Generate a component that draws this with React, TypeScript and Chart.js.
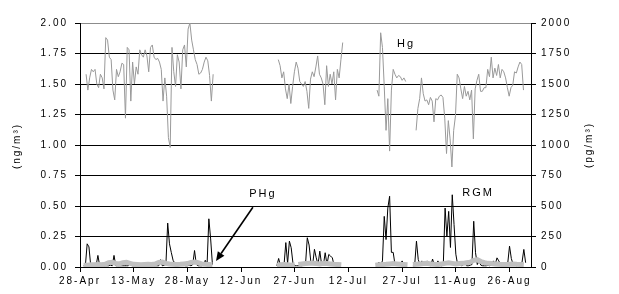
import React, { useEffect, useRef } from 'react';
import { Chart, registerables } from 'chart.js';

Chart.register(...registerables);

// ---- axis / tick data ----
const tickLabels = ['28-Apr', '13-May', '28-May', '12-Jun', '27-Jun', '12-Jul', '27-Jul', '11-Aug', '26-Aug'];
const tickDays = [0, 15, 30, 45, 60, 75, 90, 105, 120];
const dayMax = 126;

// ---- Hg (ng/m3), half-day steps, segments with start day ----
const hgStarts = [1.7, 55.4, 83.0, 93.9];
const hgSeg1 = [1.58, 1.45, 1.55, 1.62, 1.60, 1.62, 1.50, 1.47, 1.58, 1.55, 1.46, 1.88, 1.86, 1.72, 1.70, 1.45, 1.37, 1.62, 1.56, 1.60, 1.67, 1.66, 1.22, 1.80, 1.78, 1.36, 1.68, 1.50, 1.64, 1.58, 1.78, 1.74, 1.72, 1.78, 1.73, 1.60, 1.80, 1.82, 1.72, 1.70, 1.71, 1.68, 1.62, 1.36, 1.55, 1.40, 1.06, 0.98, 1.80, 1.60, 1.48, 1.74, 1.68, 1.46, 1.78, 1.82, 1.64, 1.95, 2.0, 1.86, 1.78, 1.70, 1.66, 1.58, 1.59, 1.62, 1.68, 1.72, 1.69, 1.57, 1.36, 1.58];
const hgSeg2 = [1.70, 1.65, 1.55, 1.60, 1.46, 1.38, 1.50, 1.34, 1.48, 1.60, 1.68, 1.63, 1.52, 1.50, 1.48, 1.52, 1.44, 1.30, 1.54, 1.60, 1.56, 1.64, 1.73, 1.58, 1.55, 1.50, 1.33, 1.65, 1.48, 1.58, 1.50, 1.60, 1.37, 1.62, 1.55, 1.70, 1.84];
const hgSeg3 = [1.45, 1.40, 1.92, 1.80, 1.48, 1.12, 1.38, 0.95, 1.45, 1.62, 1.58, 1.55, 1.57, 1.56, 1.53, 1.55, 1.52];
const hgSeg4 = [1.12, 1.30, 1.38, 1.55, 1.42, 1.36, 1.37, 1.33, 1.39, 1.36, 1.19, 1.38, 1.37, 1.40, 1.41, 1.39, 1.22, 0.93, 1.20, 1.05, 0.82, 1.12, 1.24, 1.58, 1.55, 1.46, 1.38, 1.48, 1.40, 1.44, 1.37, 1.45, 1.05, 1.46, 1.53, 1.58, 1.44, 1.44, 1.47, 1.47, 1.62, 1.56, 1.72, 1.55, 1.63, 1.57, 1.66, 1.55, 1.62, 1.60, 1.55, 1.47, 1.40, 1.47, 1.49, 1.60, 1.59, 1.64, 1.68, 1.66, 1.45];
const hgStep = 0.5;

// ---- RGM (pg/m3), half-day steps ----
const rgmStarts = [1.0, 55.0, 83.0, 93.0];
const rgmSeg1 = [10, 10, 190, 165, 10, 10, 15, 10, 95, 10, 10, 5, 10, 10, 10, 15, 10, 95, 10, 10, 10, 10, 10, 10, 10, 10, 40, 10, 10, 10, 10, 10, 10, 10, 10, 10, 10, 10, 10, 10, 10, 10, 10, 60, 10, 15, 20, 360, 190, 120, 55, 30, 15, 20, 40, 15, 15, 10, 10, 15, 10, 20, 135, 20, 10, 10, 10, 15, 55, 20, 395, 230, 20];
const rgmSeg2 = [10, 70, 10, 10, 15, 200, 30, 212, 158, 30, 10, 10, 10, 10, 10, 15, 20, 240, 180, 40, 20, 145, 75, 20, 130, 20, 15, 117, 20, 103, 90, 75, 10];
const rgmSeg3 = [15, 40, 20, 50, 415, 225, 483, 580, 120, 120, 20, 15, 15, 20, 50, 10];
const rgmSeg4 = [10, 15, 212, 60, 20, 50, 15, 20, 50, 15, 10, 65, 15, 10, 50, 15, 10, 20, 483, 250, 456, 160, 592, 348, 105, 20, 35, 10, 15, 35, 10, 10, 15, 20, 375, 117, 20, 50, 15, 10, 10, 10, 15, 10, 20, 50, 20, 75, 50, 15, 10, 15, 20, 30, 171, 70, 20, 15, 10, 15, 20, 40, 144, 35];
const rgmStep = 0.5;

// ---- PHg (pg/m3), daily steps ----
const phgStarts = [1, 55, 61, 82.5, 93];
const phgSeg1 = [15, 15, 18, 18, 20, 18, 22, 35, 38, 30, 25, 35, 38, 30, 22, 20, 18, 20, 22, 20, 25, 38, 40, 30, 25, 22, 20, 22, 25, 28, 38, 40, 35, 25, 22, 20, 18];
const phgSeg2 = [15, 18, 20, 18, 15, 18];
const phgSeg3 = [20, 25, 28, 30, 30, 28, 25, 30, 28, 25, 22, 20, 18];
const phgSeg4 = [15, 18, 20, 22, 25, 28, 25, 22, 20, 18];
const phgSeg5 = [20, 22, 25, 28, 30, 25, 22, 20, 25, 30, 35, 30, 25, 28, 30, 35, 40, 55, 60, 45, 35, 30, 28, 25, 22, 20, 20, 22, 25, 22, 20, 18];
const phgStep = 1;

// ---- annotations (day, value on left axis) ----
const hgLabel = { text: 'Hg', day: 91.1, value: 1.83 };
const rgmLabel = { text: 'RGM', day: 111.2, value: 0.607 };
const phgLabel = { text: 'PHg', day: 51.1, value: 0.598 };
const arrowFrom = { day: 48.3, value: 0.49 };
const arrowTo = { day: 38.0, value: 0.05 };

function buildSeries(starts: number[], segs: number[][], step: number) {
  const pts: { x: number; y: number | null }[] = [];
  segs.forEach((vals, i) => {
    if (i > 0) pts.push({ x: starts[i] - step / 2, y: null });
    vals.forEach((v, j) => pts.push({ x: starts[i] + j * step, y: v }));
  });
  return pts;
}

const FONT = '"Liberation Sans", Arial, sans-serif';
const LS = '2px';

const spacingPlugin = {
  id: 'letterSpacing',
  beforeUpdate(c: any) { c.ctx.letterSpacing = LS; },
  beforeLayout(c: any) { c.ctx.letterSpacing = LS; },
  beforeDraw(c: any) { c.ctx.letterSpacing = LS; },
};

const decorPlugin = {
  id: 'decor',
  afterDraw(c: any) {
    const ctx = c.ctx as CanvasRenderingContext2D;
    const xs = c.scales.x;
    const ys = c.scales.y;
    ctx.save();
    (ctx as any).letterSpacing = LS;
    ctx.fillStyle = '#000';
    ctx.font = `10px ${FONT}`;
    ctx.textAlign = 'center';
    ctx.textBaseline = 'middle';
    // axis titles
    const midY = (c.chartArea.top + c.chartArea.bottom) / 2;
    ctx.save();
    ctx.translate(17, midY + 1);
    ctx.rotate(-Math.PI / 2);
    ctx.fillText('(ng/m³)', 0, 0);
    ctx.restore();
    ctx.save();
    ctx.translate(589, midY);
    ctx.rotate(-Math.PI / 2);
    ctx.fillText('(pg/m³)', 0, 0);
    ctx.restore();
    // series labels
    ctx.font = `11px ${FONT}`;
    [hgLabel, rgmLabel, phgLabel].forEach((l) => {
      ctx.fillText(l.text, xs.getPixelForValue(l.day), ys.getPixelForValue(l.value));
    });
    // arrow
    const x1 = xs.getPixelForValue(arrowFrom.day);
    const y1 = ys.getPixelForValue(arrowFrom.value);
    const x2 = xs.getPixelForValue(arrowTo.day);
    const y2 = ys.getPixelForValue(arrowTo.value);
    const ang = Math.atan2(y2 - y1, x2 - x1);
    const hl = 9, hw = 4;
    const bx = x2 - hl * Math.cos(ang);
    const by = y2 - hl * Math.sin(ang);
    ctx.strokeStyle = '#000';
    ctx.lineWidth = 1.6;
    ctx.beginPath();
    ctx.moveTo(x1, y1);
    ctx.lineTo(bx, by);
    ctx.stroke();
    ctx.beginPath();
    ctx.moveTo(x2, y2);
    ctx.lineTo(bx + hw * Math.sin(ang), by - hw * Math.cos(ang));
    ctx.lineTo(bx - hw * Math.sin(ang), by + hw * Math.cos(ang));
    ctx.closePath();
    ctx.fill();
    ctx.restore();
  },
};

export default function App() {
  const ref = useRef<HTMLCanvasElement>(null);
  useEffect(() => {
    const canvas = ref.current!;
    Chart.defaults.color = '#000';
    Chart.defaults.font = { family: FONT, size: 10 } as any;
    const chart = new Chart(canvas, {
      type: 'line',
      data: {
        datasets: [
          {
            label: 'PHg',
            data: buildSeries(phgStarts, [phgSeg1, phgSeg2, phgSeg3, phgSeg4, phgSeg5], phgStep) as any,
            yAxisID: 'y2',
            borderColor: '#c0c0c0',
            borderWidth: 5,
            order: 0,
          },
          {
            label: 'RGM',
            data: buildSeries(rgmStarts, [rgmSeg1, rgmSeg2, rgmSeg3, rgmSeg4], rgmStep) as any,
            yAxisID: 'y2',
            borderColor: '#000000',
            borderWidth: 1,
            order: 1,
          },
          {
            label: 'Hg',
            data: buildSeries(hgStarts, [hgSeg1, hgSeg2, hgSeg3, hgSeg4], hgStep) as any,
            yAxisID: 'y',
            borderColor: '#999999',
            borderWidth: 1,
            order: 2,
          },
        ],
      },
      options: {
        responsive: false,
        animation: false,
        devicePixelRatio: 1,
        spanGaps: false,
        layout: { padding: { top: 23, left: 0, right: 0, bottom: 0 } },
        elements: { point: { radius: 0 }, line: { tension: 0 } },
        plugins: { legend: { display: false }, tooltip: { enabled: false } },
        scales: {
          x: {
            type: 'linear',
            min: 0,
            max: dayMax,
            afterBuildTicks: (s: any) => { s.ticks = tickDays.map((v) => ({ value: v })); },
            afterFit: (s: any) => { s.height = 27; },
            ticks: {
              autoSkip: false,
              maxRotation: 0,
              padding: 3,
              callback: (v: any) => { const i = tickDays.indexOf(Number(v)); return i >= 0 ? tickLabels[i] : ''; },
            },
            grid: { drawOnChartArea: false, drawTicks: true, tickLength: 5, color: '#000' },
            border: { display: true, color: '#000' },
          },
          y: {
            position: 'left',
            min: 0,
            max: 2,
            afterFit: (s: any) => { s.width = 80; },
            ticks: { stepSize: 0.25, padding: 7, callback: (v: any) => Number(v).toFixed(2) },
            grid: {
              color: (c: any) => (c.tick && c.tick.value === 2 ? '#8c8c8c' : '#000000'),
              tickColor: '#000',
              tickLength: 5,
            },
            border: { display: true, color: '#000' },
          },
          y2: {
            position: 'right',
            min: 0,
            max: 2000,
            afterFit: (s: any) => { s.width = 88; },
            ticks: { stepSize: 250, padding: 5, callback: (v: any) => String(v) },
            grid: { drawOnChartArea: false, drawTicks: true, tickLength: 5, color: '#000' },
            border: { display: true, color: '#000' },
          },
        },
      },
      plugins: [spacingPlugin, decorPlugin],
    } as any);
    return () => chart.destroy();
  }, []);
  return (
    <div style={{ position: 'fixed', left: 0, top: 0, width: 619, height: 294, background: '#fff' }}>
      <canvas ref={ref} width={619} height={294} style={{ display: 'block', width: 619, height: 294 }} />
    </div>
  );
}
